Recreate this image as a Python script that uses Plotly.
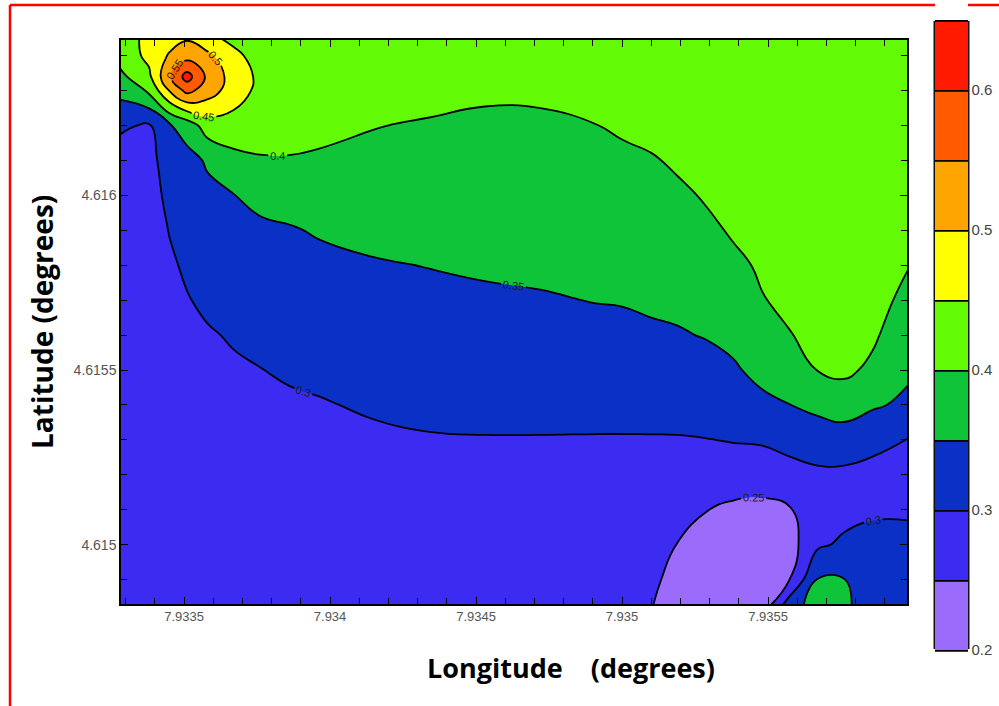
import plotly.graph_objects as go

# ---------------- data ----------------
lon = [7.93328, 7.93338, 7.93345, 7.93351, 7.93358, 7.93367, 7.93376, 7.93386, 7.93396,
       7.93415, 7.93434, 7.93453, 7.93472, 7.93491, 7.93500, 7.93510, 7.93519, 7.93529,
       7.93538, 7.93548, 7.93557, 7.93567, 7.93576, 7.93586, 7.93598]
# latitude rows, top to bottom
lat = [4.61645, 4.6164, 4.61634, 4.6163, 4.6162, 4.6161, 4.6160, 4.6159, 4.6158, 4.6157,
       4.6156, 4.6155, 4.6154, 4.6153, 4.6152, 4.6151, 4.6150, 4.6149, 4.61482]

# values for each longitude column, listed top (north) to bottom (south)
col_00 = [0.43, 0.418, 0.387, 0.365, 0.307, 0.28, 0.275, 0.272, 0.27, 0.27, 0.27, 0.27, 0.27, 0.27, 0.27, 0.27, 0.27, 0.27, 0.27]
col_01 = [0.46, 0.462, 0.44, 0.407, 0.295, 0.28, 0.275, 0.272, 0.27, 0.27, 0.27, 0.27, 0.27, 0.27, 0.27, 0.27, 0.27, 0.27, 0.27]
col_02 = [0.48, 0.505, 0.545, 0.502, 0.345, 0.33, 0.315, 0.302, 0.292, 0.285, 0.28, 0.277, 0.275, 0.274, 0.273, 0.272, 0.272, 0.271, 0.271]
col_03 = [0.495, 0.53, 0.62, 0.565, 0.37, 0.335, 0.325, 0.317, 0.308, 0.297, 0.29, 0.285, 0.282, 0.28, 0.278, 0.277, 0.276, 0.275, 0.275]
col_04 = [0.455, 0.515, 0.54, 0.525, 0.425, 0.355, 0.34, 0.33, 0.32, 0.31, 0.295, 0.288, 0.284, 0.281, 0.279, 0.277, 0.276, 0.275, 0.275]
col_05 = [0.445, 0.455, 0.478, 0.475, 0.43, 0.385, 0.349, 0.338, 0.327, 0.316, 0.305, 0.293, 0.287, 0.283, 0.28, 0.278, 0.277, 0.276, 0.276]
col_06 = [0.44, 0.442, 0.44, 0.437, 0.425, 0.395, 0.36, 0.343, 0.333, 0.322, 0.312, 0.299, 0.29, 0.285, 0.282, 0.28, 0.278, 0.277, 0.277]
col_07 = [0.44, 0.442, 0.442, 0.44, 0.428, 0.395, 0.365, 0.347, 0.337, 0.327, 0.317, 0.305, 0.294, 0.287, 0.283, 0.281, 0.279, 0.278, 0.278]
col_08 = [0.44, 0.443, 0.443, 0.44, 0.42, 0.39, 0.37, 0.353, 0.341, 0.331, 0.32, 0.309, 0.297, 0.29, 0.285, 0.282, 0.28, 0.279, 0.278]
col_09 = [0.44, 0.445, 0.445, 0.44, 0.402, 0.385, 0.372, 0.36, 0.347, 0.338, 0.328, 0.316, 0.305, 0.293, 0.287, 0.284, 0.282, 0.28, 0.28]
col_10 = [0.44, 0.445, 0.44, 0.42, 0.394, 0.383, 0.373, 0.362, 0.351, 0.341, 0.332, 0.321, 0.31, 0.297, 0.289, 0.285, 0.283, 0.281, 0.28]
col_11 = [0.44, 0.443, 0.425, 0.41, 0.388, 0.38, 0.372, 0.363, 0.355, 0.344, 0.334, 0.323, 0.312, 0.298, 0.289, 0.285, 0.283, 0.281, 0.28]
col_12 = [0.44, 0.44, 0.425, 0.41, 0.39, 0.38, 0.373, 0.365, 0.357, 0.347, 0.336, 0.324, 0.312, 0.298, 0.29, 0.286, 0.283, 0.281, 0.28]
col_13 = [0.44, 0.44, 0.43, 0.42, 0.399, 0.387, 0.378, 0.37, 0.36, 0.351, 0.34, 0.328, 0.315, 0.297, 0.287, 0.283, 0.278, 0.274, 0.272]
col_14 = [0.44, 0.44, 0.435, 0.425, 0.408, 0.388, 0.38, 0.372, 0.363, 0.352, 0.341, 0.328, 0.315, 0.297, 0.285, 0.278, 0.272, 0.266, 0.262]
col_15 = [0.44, 0.44, 0.437, 0.43, 0.418, 0.395, 0.383, 0.374, 0.366, 0.356, 0.344, 0.33, 0.316, 0.297, 0.283, 0.274, 0.266, 0.258, 0.251]
col_16 = [0.44, 0.44, 0.438, 0.433, 0.423, 0.408, 0.39, 0.379, 0.369, 0.358, 0.347, 0.333, 0.318, 0.297, 0.282, 0.27, 0.249, 0.237, 0.232]
col_17 = [0.44, 0.44, 0.439, 0.436, 0.43, 0.418, 0.405, 0.39, 0.378, 0.366, 0.352, 0.338, 0.321, 0.299, 0.28, 0.251, 0.234, 0.226, 0.224]
col_18 = [0.44, 0.44, 0.44, 0.438, 0.434, 0.426, 0.416, 0.405, 0.39, 0.374, 0.36, 0.345, 0.325, 0.302, 0.278, 0.24, 0.226, 0.22, 0.22]
col_19 = [0.44, 0.44, 0.44, 0.439, 0.436, 0.43, 0.423, 0.414, 0.406, 0.398, 0.383, 0.361, 0.341, 0.305, 0.275, 0.237, 0.222, 0.22, 0.225]
col_20 = [0.44, 0.44, 0.44, 0.44, 0.438, 0.434, 0.428, 0.421, 0.415, 0.408, 0.398, 0.375, 0.349, 0.313, 0.285, 0.245, 0.228, 0.245, 0.33]
col_21 = [0.44, 0.44, 0.44, 0.44, 0.438, 0.435, 0.432, 0.428, 0.425, 0.418, 0.41, 0.401, 0.36, 0.328, 0.29, 0.28, 0.292, 0.352, 0.37]
col_22 = [0.44, 0.44, 0.44, 0.44, 0.438, 0.436, 0.433, 0.43, 0.426, 0.42, 0.414, 0.41, 0.371, 0.328, 0.29, 0.285, 0.308, 0.351, 0.36]
col_23 = [0.44, 0.44, 0.44, 0.44, 0.438, 0.436, 0.433, 0.432, 0.427, 0.42, 0.407, 0.39, 0.355, 0.318, 0.28, 0.292, 0.318, 0.325, 0.322]
col_24 = [0.44, 0.44, 0.44, 0.44, 0.437, 0.432, 0.425, 0.413, 0.402, 0.385, 0.368, 0.356, 0.342, 0.298, 0.285, 0.292, 0.318, 0.325, 0.322]

columns = [col_00, col_01, col_02, col_03, col_04, col_05, col_06, col_07, col_08, col_09,
           col_10, col_11, col_12, col_13, col_14, col_15, col_16, col_17, col_18, col_19,
           col_20, col_21, col_22, col_23, col_24]

x_tickvals = [7.9335, 7.934, 7.9345, 7.935, 7.9355]
x_ticktext = ["7.9335", "7.934", "7.9345", "7.935", "7.9355"]
y_tickvals = [4.615, 4.6155, 4.616]
y_ticktext = ["4.615", "4.6155", "4.616"]
cb_tickvals = [0.2, 0.3, 0.4, 0.5, 0.6]
cb_ticktext = ["0.2", "0.3", "0.4", "0.5", "0.6"]

level_start, level_end, level_step = 0.2, 0.65, 0.05
# colours of the bands: (<0.2), 0.2-0.25, ..., 0.6-0.65, (>0.65)
band_colors = ["rgba(255,255,255,0)", "#9B6BFB", "#3C2CF2", "#0B30C6", "#10C43A", "#63FA06",
               "#FFFF00", "#FFA500", "#FF5A00", "#FF1A00", "rgba(255,255,255,0)"]

# ---------------- build grid ----------------
rows = [list(r) for r in zip(*columns)]          # rows top -> bottom
z_grid = rows[::-1]
lat_asc = lat[::-1]

n = len(band_colors)
colorscale = [[i / (n - 1), c] for i, c in enumerate(band_colors)]

# geometry helpers (pixels of a 999x706 page)
W, H = 999, 706
L, R, T, B = 121, 92, 40, 102
pw, ph = W - L - R, H - T - B


def px_x(p):
    return (p - L) / pw


def px_y(p):
    return (H - B - p) / ph


fig = go.Figure()
fig.add_trace(go.Contour(
    x=lon, y=lat_asc, z=z_grid,
    autocontour=False,
    contours=dict(start=level_start, end=level_end, size=level_step,
                  coloring="fill", showlines=True, showlabels=True,
                  labelfont=dict(size=11, color="#1a1a1a", family="Liberation Sans"),
                  labelformat=".2~f"),
    line=dict(color="black", width=1.8, smoothing=1.3),
    colorscale=colorscale,
    hoverinfo="skip",
    colorbar=dict(
        x=px_x(935), xanchor="left", xpad=0,
        y=px_y(335), yanchor="middle", ypad=0,
        len=700, lenmode="pixels",
        thickness=33, thicknessmode="pixels",
        outlinewidth=0,
        tickmode="array", tickvals=cb_tickvals, ticktext=cb_ticktext,
        ticks="", tickfont=dict(size=15, color="#444444", family="Liberation Sans"),
    ),
))

axis_common = dict(
    showgrid=False, zeroline=False,
    showline=True, linecolor="black", linewidth=1.5, mirror="allticks",
    ticks="inside", ticklen=7, tickwidth=1, tickcolor="black",
)

fig.update_xaxes(range=[7.933284, 7.935976], tickmode="array",
                 tickvals=x_tickvals, ticktext=x_ticktext,
                 tickfont=dict(size=13, color="#555555",
                               family="Liberation Sans Narrow, Liberation Sans"),
                 minor=dict(tickmode="linear", tick0=7.9335, dtick=0.0001,
                            ticks="inside", ticklen=6, tickcolor="black"),
                 **axis_common)
fig.update_yaxes(range=[4.61483, 4.616445], tickmode="array",
                 tickvals=y_tickvals, ticktext=y_ticktext,
                 tickfont=dict(size=14, color="#555555", family="Liberation Sans"),
                 minor=dict(tickmode="linear", tick0=4.615, dtick=0.0001,
                            ticks="inside", ticklen=6, tickcolor="black"),
                 **axis_common)

title_font = dict(size=27, color="black", family="Open Sans, Lato, Liberation Sans")
annotations = [
    dict(text="<b>Latitude (degrees)</b>", x=px_x(42), y=px_y(322), xref="paper", yref="paper",
         textangle=-90, showarrow=False, font=dict(title_font, size=28),
         xanchor="center", yanchor="middle"),
    dict(text="<b>Longitude\u00a0\u00a0\u00a0\u00a0(degrees)</b>", x=px_x(571), y=px_y(667),
         xref="paper", yref="paper", showarrow=False, font=title_font,
         xanchor="center", yanchor="middle"),
]

shapes = [
    # red frame of the picture
    dict(type="line", xref="paper", yref="paper", x0=px_x(10), x1=px_x(1005),
         y0=px_y(5), y1=px_y(5), line=dict(color="#FF0000", width=2.5)),
    dict(type="line", xref="paper", yref="paper", x0=px_x(10), x1=px_x(10),
         y0=px_y(5), y1=px_y(710), line=dict(color="#FF0000", width=2.5)),
    # colour-bar side edges
    dict(type="line", xref="paper", yref="paper", x0=px_x(935), x1=px_x(935),
         y0=px_y(21), y1=px_y(649), line=dict(color="#111111", width=3)),
    dict(type="line", xref="paper", yref="paper", x0=px_x(968), x1=px_x(968),
         y0=px_y(21), y1=px_y(649), line=dict(color="#111111", width=3)),
]

fig.update_layout(
    width=W, height=H,
    margin=dict(l=L, r=R, t=T, b=B, pad=0, autoexpand=False),
    paper_bgcolor="white", plot_bgcolor="white",
    annotations=annotations, shapes=shapes,
    showlegend=False,
)

fig.write_html("out.html",
               config={"displayModeBar": False},
               post_script="document.body.style.margin='0';document.body.style.overflow='hidden';")
